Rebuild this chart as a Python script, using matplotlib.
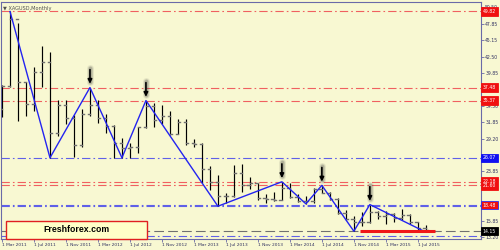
import numpy as np
import matplotlib
matplotlib.use('Agg')
import matplotlib.pyplot as plt
from matplotlib.patches import Rectangle

# monthly XAGUSD bars, Mar 2011 .. Aug 2015
opens = [34.0, 37.8, 48.6, 38.3, 34.8, 40.0, 41.7, 30.1, 34.6, 32.6,
         28.2, 33.2, 34.6, 32.5, 31.3, 28.4, 27.6, 27.9, 31.1, 34.5,
         32.2, 32.9, 30.0, 31.9, 28.4, 28.3, 24.2, 22.2, 19.8, 19.9,
         23.6, 21.7, 21.9, 19.5, 19.4, 19.3, 21.2, 19.7, 19.1, 19.0,
         21.0, 20.4, 19.4, 17.1, 16.2, 15.6, 15.6, 17.2, 16.6, 17.0,
         16.3, 16.8, 15.6, 14.6]
highs = [37.9, 49.82, 48.0, 38.4, 40.8, 44.2, 43.3, 35.4, 35.5, 33.0,
         34.0, 37.48, 35.4, 33.1, 31.4, 29.3, 28.4, 31.1, 35.37, 35.0,
         34.6, 33.6, 32.4, 32.4, 29.2, 28.4, 24.8, 23.2, 20.3, 24.9,
         25.1, 22.9, 21.9, 20.2, 20.5, 22.18, 21.9, 20.2, 19.8, 21.2,
         21.60, 20.6, 19.6, 17.6, 16.7, 17.3, 18.48, 17.4, 17.4, 17.1,
         17.8, 17.0, 15.7, 15.1]
lows = [32.7, 37.5, 32.0, 32.8, 33.7, 37.5, 26.07, 29.6, 31.5, 26.15,
        27.9, 32.8, 31.7, 30.1, 26.1, 26.07, 26.1, 26.9, 30.9, 31.1,
        31.6, 29.8, 29.9, 28.1, 27.9, 22.0, 20.9, 18.21, 18.8, 19.7,
        20.6, 21.0, 19.3, 18.8, 19.0, 19.2, 19.6, 18.9, 18.6, 18.8,
        20.3, 19.3, 16.9, 15.9, 14.15, 15.0, 15.5, 16.1, 15.3, 15.6,
        16.0, 15.4, 14.3, 14.0]
closes = [37.8, 48.6, 38.3, 34.8, 40.0, 41.7, 30.1, 34.6, 32.6, 28.2,
          33.2, 34.6, 32.5, 31.3, 28.4, 27.6, 27.9, 31.1, 34.5, 32.2,
          32.9, 30.0, 31.9, 28.4, 28.3, 24.2, 22.2, 19.8, 19.9, 23.6,
          21.7, 21.9, 19.5, 19.4, 19.3, 21.2, 19.7, 19.1, 19.0, 21.0,
          20.4, 19.4, 17.1, 16.2, 15.6, 15.6, 17.2, 16.6, 17.0, 16.3,
          16.8, 15.6, 14.6, 14.4]

dateLabels = ['1 Mar 2011', '1 Jul 2011', '1 Nov 2011', '1 Mar 2012', '1 Jul 2012',
              '1 Nov 2012', '1 Mar 2013', '1 Jul 2013', '1 Nov 2013', '1 Mar 2014',
              '1 Jul 2014', '1 Nov 2014', '1 Mar 2015', '1 Jul 2015']
priceTicks = [50.50, 47.85, 45.15, 42.50, 39.85, 37.15, 34.50, 31.85,
              29.20, 26.50, 23.85, 21.20, 18.50, 15.85, 13.20]
# tick labels hidden behind the price tags in the reference
hiddenTicks = [37.15, 26.50, 21.20, 18.50]

# zigzag pivots (bar index, price)
zzIdx = [1, 6, 11, 15, 18, 27, 35, 38, 40, 44, 46, 53]
zzPrice = [49.82, 26.07, 37.48, 26.07, 35.37, 18.21, 22.18, 18.6, 21.60, 14.15, 18.48, 14.0]
arrowIdx = [11, 18, 35, 40, 46]

levelPrices = [49.82, 37.48, 35.37, 26.07, 22.18, 21.60, 18.48, 18.21, 14.15, 13.4]
levelKinds = ['r', 'r', 'r', 'b', 'r', 'r', 'b', 'b', 'g', 'b']
tagPrices = [49.82, 37.48, 35.37, 26.07, 21.89, 18.35, 14.15]
tagTexts = ['49.82', '37.48', '35.37', '26.07', '22.18\n21.60', '18.48', '14.15']
tagColors = ['#F01010', '#F01010', '#F01010', '#1010F0', '#F01010', '#F01010', '#000000']
tagEdges = ['#F01010', '#F01010', '#F01010', '#1010F0', '#F01010', '#3030F0', '#000000']

bg = '#F8F8D2'
axisCol = '#6A6AA8'
plt.rcParams['lines.scale_dashes'] = False

fig = plt.figure(figsize=(5, 2.5), dpi=100, facecolor=bg)
ax = fig.add_axes([0.002, 0.044, 0.96, 0.948])
ax.set_facecolor(bg)

n = len(opens)
xs = np.arange(n)

# horizontal levels
styleMap = {'r': ('#F06060', (0, (6, 2.2, 1.2, 2.2))),
            'b': ('#6060E8', (0, (6, 2.2, 1.2, 2.2))),
            'g': ('#707070', (0, (7, 3)))}
for p, k in zip(levelPrices, levelKinds):
    c, ls = styleMap[k]
    ax.axhline(p, color=c, lw=0.8, linestyle=ls, zorder=1)

# bars
for i in range(n):
    ax.plot([xs[i], xs[i]], [lows[i], highs[i]], color='black', lw=0.85, zorder=3,
            solid_capstyle='butt')
    ax.plot([xs[i] - 0.3, xs[i]], [opens[i], opens[i]], color='#707070', lw=1.0, zorder=3)
    ax.plot([xs[i], xs[i] + 0.3], [closes[i], closes[i]], color='#707070', lw=1.0, zorder=3)

# zigzag
ax.plot(zzIdx, zzPrice, color='#2424F0', lw=1.0, zorder=4)
ax.plot([44.75, 54.1], [14.15, 14.15], color='#F01818', lw=2.2, zorder=4,
        solid_capstyle='butt')

# arrows above peaks, with a soft shadow
for i in arrowIdx:
    p = highs[i]
    for w, a in [(5, 0.10), (3.5, 0.15), (2.5, 0.2)]:
        ax.plot([i, i], [p + 0.9, p + 3.2], color='#404040', lw=w, alpha=a, zorder=5,
                solid_capstyle='round')
    ax.annotate('', xy=(i, p + 0.6), xytext=(i, p + 2.9),
                arrowprops=dict(arrowstyle='-|>', color='black', lw=1.2,
                                mutation_scale=6, shrinkA=0, shrinkB=0), zorder=6)

ax.set_xlim(-0.125, 59.9)
ax.set_ylim(12.89, 51.36)

ax.set_xticks(np.arange(0, 53, 4))
ax.set_xticklabels(dateLabels, fontsize=3.2, color='#303060', ha='left')
ax.yaxis.tick_right()
ax.set_yticks(priceTicks)
ax.set_yticklabels(['' if v in hiddenTicks else '%.2f' % v for v in priceTicks],
                   fontsize=3.3, color='#303060')
ax.tick_params(axis='both', length=2, width=0.6, color=axisCol, pad=1)
for s in ax.spines.values():
    s.set_color(axisCol)
    s.set_linewidth(0.8)

# price tags on the right axis
for p, t, c, e in zip(tagPrices, tagTexts, tagColors, tagEdges):
    ax.text(1.004, p, t, transform=ax.get_yaxis_transform(), fontsize=3.3,
            color='white', ha='left', va='center', zorder=10, clip_on=False,
            linespacing=0.9,
            bbox=dict(boxstyle='square,pad=0.35', facecolor=c, edgecolor=e, lw=0.6))

ax.text(0.004, 0.985, '\u25bc XAGUSD,Monthly', transform=ax.transAxes, fontsize=3.6,
        color='#505050', ha='left', va='top')

# watermark box
fig.add_artist(Rectangle((0.012, 0.044), 0.282, 0.072, transform=fig.transFigure,
                         facecolor='#FFFFC8', edgecolor='#E02020', lw=1.0, zorder=20))
fig.text(0.153, 0.081, 'Freshforex.com', fontsize=6.3, fontweight='bold',
         family='Liberation Sans', color='black', ha='center', va='center', zorder=21)

fig.savefig('out.png', dpi=100, facecolor=bg)
